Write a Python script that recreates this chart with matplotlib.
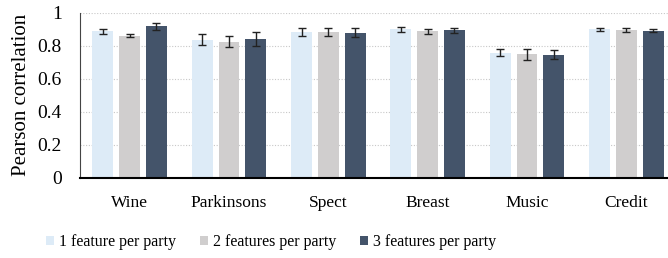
import matplotlib
matplotlib.use("Agg")
import matplotlib.pyplot as plt
import numpy as np

categories = ["Wine", "Parkinsons", "Spect", "Breast", "Music", "Credit"]
series_names = ["1 feature per party", "2 features per party", "3 features per party"]
vals_1 = [0.887, 0.835, 0.884, 0.898, 0.757, 0.898]
vals_2 = [0.861, 0.823, 0.884, 0.887, 0.749, 0.893]
vals_3 = [0.916, 0.841, 0.878, 0.892, 0.745, 0.890]
err_1 = [0.014, 0.033, 0.023, 0.013, 0.020, 0.010]
err_2 = [0.008, 0.034, 0.023, 0.016, 0.033, 0.013]
err_3 = [0.020, 0.042, 0.028, 0.016, 0.027, 0.010]
colors = ["#DDEBF7", "#D0CECE", "#44546A"]

plt.rcParams['font.family'] = ['Liberation Serif', 'DejaVu Serif']

fig = plt.figure(figsize=(6.68, 2.58), dpi=100)
ax = fig.add_axes([80/668, (258-178)/258, 596/668, (178-12.5)/258])

x = np.arange(len(categories))
w = 0.21
step = 0.27
for i, (v, e, c, n) in enumerate(zip([vals_1, vals_2, vals_3], [err_1, err_2, err_3], colors, series_names)):
    ax.bar(x + (i-1)*step, v, width=w, color=c, label=n, zorder=2,
           yerr=e, capsize=3, error_kw=dict(ecolor="#222222", elinewidth=1, capthick=1, zorder=3))

ax.set_xlim(-0.5, 5.5)
ax.set_ylim(0, 1)
ax.set_yticks([0, 0.2, 0.4, 0.6, 0.8, 1.0])
ax.set_yticklabels(["0", "0.2", "0.4", "0.6", "0.8", "1"])
ax.set_xticks(x)
ax.set_xticklabels(categories)
ax.tick_params(axis='both', length=0, colors="#000000")
ax.tick_params(axis='y', pad=13, labelsize=14)
ax.tick_params(axis='x', pad=12, labelsize=12.5)
ax.yaxis.grid(True, linestyle=(0, (1, 1.5)), color="#C8C8C8", linewidth=0.8, zorder=0)
ax.set_axisbelow(True)
for s in ["top", "right"]:
    ax.spines[s].set_visible(False)
ax.spines["left"].set_color("#444444")
ax.spines["left"].set_linewidth(0.8)
ax.spines["bottom"].set_color("#000000")
ax.spines["bottom"].set_linewidth(1.5)
ax.set_ylabel("Pearson correlation", fontsize=15, labelpad=5)

leg = fig.legend(loc="center", bbox_to_anchor=(271/668, (258-242)/258), ncol=3, frameon=False,
                 fontsize=11.5, handlelength=0.5, handleheight=0.55, handletextpad=0.3,
                 columnspacing=1.5)

fig.savefig("out.png", dpi=100)
